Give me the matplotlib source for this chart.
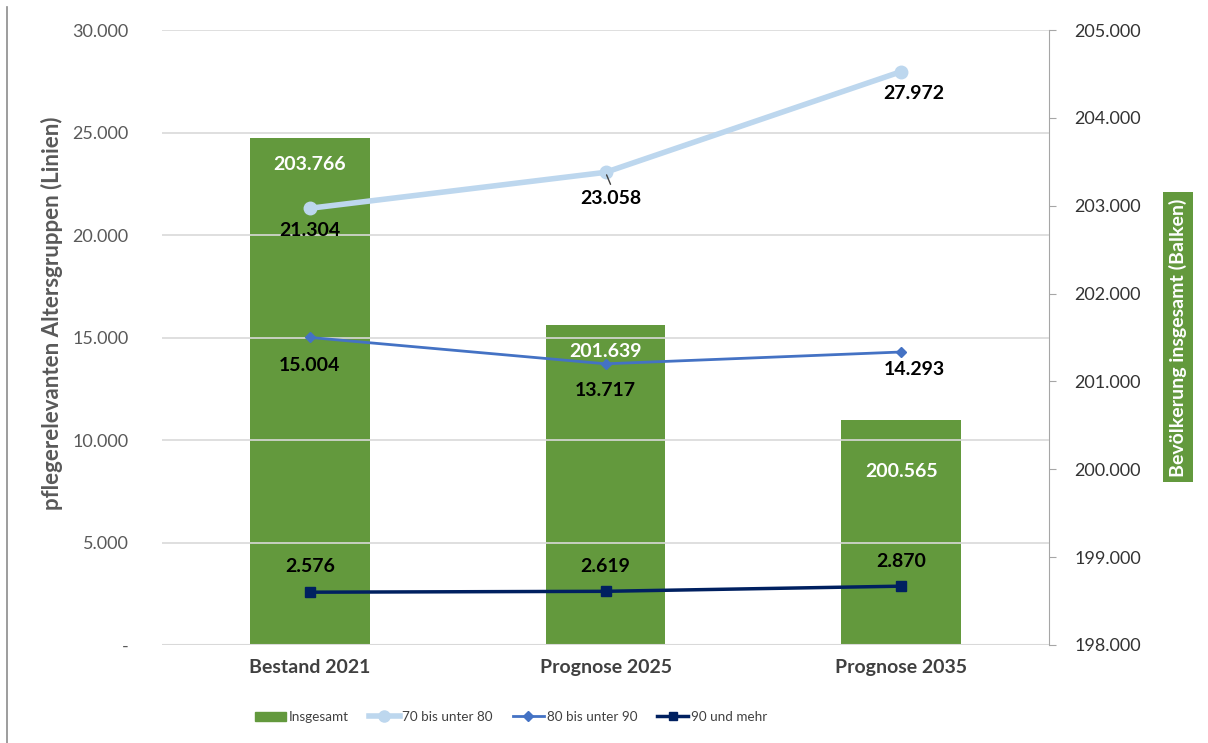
import matplotlib
matplotlib.use('Agg')
import matplotlib.pyplot as plt
from matplotlib.lines import Line2D
import numpy as np

# Daten
kategorien = ['Bestand 2021', 'Prognose 2025', 'Prognose 2035']
insgesamt = [203766, 201639, 200565]
alter_70_80 = [21304, 23058, 27972]
alter_80_90 = [15004, 13717, 14293]
alter_90_plus = [2576, 2619, 2870]
links_ticks = [0, 5000, 10000, 15000, 20000, 25000, 30000]
rechts_ticks = [198000, 199000, 200000, 201000, 202000, 203000, 204000, 205000]


def de_format(v):
    return f"{v:,.0f}".replace(',', '.')


plt.rcParams['font.family'] = ['Lato', 'DejaVu Sans']

gruen = '#63993D'
hellblau = '#BDD7EE'
mittelblau = '#4472C4'
dunkelblau = '#002060'

fig = plt.figure(figsize=(12.08, 7.43), dpi=100)
ax = fig.add_axes([0.1341, 0.1319, 0.7343, 0.8277])
ax2 = ax.twinx()

x = np.arange(len(kategorien))

# Balken auf der rechten Achse
ax2.bar(x, [v - 198000 for v in insgesamt], bottom=198000, width=0.405,
        color=gruen, zorder=2)
ax2.set_ylim(198000, 205000)
ax2.set_yticks(rechts_ticks)
ax2.set_yticklabels([de_format(t) for t in rechts_ticks], fontsize=13, color='#333333')

# Linien vor die Balken legen
ax.set_zorder(ax2.get_zorder() + 1)
ax.patch.set_visible(False)

ax.plot(x, alter_70_80, color=hellblau, lw=4, marker='o', ms=9, zorder=3)
ax.plot(x, alter_80_90, color=mittelblau, lw=2, marker='D', ms=5, zorder=3)
ax.plot(x, alter_90_plus, color=dunkelblau, lw=2.5, marker='s', ms=7, zorder=3)

ax.set_ylim(0, 30000)
ax.set_xlim(-0.5, 2.5)
ax.set_yticks(links_ticks)
ax.set_yticklabels(['-'] + [de_format(t) for t in links_ticks[1:]], fontsize=13, color='#595959')
ax.set_xticks(x)
ax.set_xticklabels(kategorien, fontsize=14, fontweight='bold', color='#404040')
ax.tick_params(axis='x', length=0, pad=10)
ax.tick_params(axis='y', length=0, pad=24)
ax2.tick_params(axis='y', length=5, color='#A6A6A6', pad=13)

# Gitterlinien
for t in links_ticks:
    ax.axhline(t, color='#D9D9D9', lw=1.2, zorder=0)
ax.axhline(0, color='#D9D9D9', lw=1.5, zorder=0)

for a in (ax, ax2):
    for s in ['top', 'left', 'bottom']:
        a.spines[s].set_visible(False)
ax.spines['right'].set_visible(False)
ax2.spines['right'].set_color('#A6A6A6')

ax.set_ylabel('pflegerelevanten Altersgruppen (Linien)', fontsize=16,
              fontweight='bold', color='#595959')
ax.yaxis.set_label_coords(-0.112, 0.54)

fig.text(0.975, 0.546, 'Bevölkerung insgesamt (Balken)', rotation=90, ha='center',
         va='center', fontsize=14, fontweight='bold', color='white',
         bbox=dict(boxstyle='square,pad=0.3', fc=gruen, ec='none'))

# Datenbeschriftungen
lab = dict(fontsize=14, fontweight='bold', color='black', ha='center', va='center',
           textcoords='offset pixels')
for i, v in enumerate(insgesamt):
    off = -52 if i == 2 else -26
    ax2.annotate(de_format(v), (x[i], v), xytext=(0, off), fontsize=14,
                 fontweight='bold', color='white', ha='center', va='center',
                 textcoords='offset pixels', zorder=4)

offs_70 = [(0, -22), (5, -26), (13, -22)]
for i, v in enumerate(alter_70_80):
    ax.annotate(de_format(v), (x[i], v), xytext=offs_70[i], **lab)
# Fuehrungslinie bei 23.058
ax.annotate('', (x[1], alter_70_80[1]), xytext=(5, -12), textcoords='offset pixels',
            arrowprops=dict(arrowstyle='-', color='#404040', lw=1, shrinkA=0, shrinkB=2))

offs_80 = [(0, -28), (0, -27), (13, -17)]
for i, v in enumerate(alter_80_90):
    ax.annotate(de_format(v), (x[i], v), xytext=offs_80[i], **lab)

offs_90 = [(0, 26), (0, 25), (0, 25)]
for i, v in enumerate(alter_90_plus):
    ax.annotate(de_format(v), (x[i], v), xytext=offs_90[i], **lab)

# Legende
handles = [
    plt.Rectangle((0, 0), 1, 1, color=gruen),
    Line2D([], [], color=hellblau, lw=4, marker='o', ms=8),
    Line2D([], [], color=mittelblau, lw=2, marker='D', ms=5),
    Line2D([], [], color=dunkelblau, lw=2.5, marker='s', ms=6),
]
labels = ['Insgesamt', '70 bis unter 80', '80 bis unter 90', '90 und mehr']
fig.legend(handles, labels, loc='center', bbox_to_anchor=(0.423, 0.035), ncol=4,
           frameon=False, fontsize=9.7, handlelength=2.3, columnspacing=1.5,
           handletextpad=0.2, labelcolor='#404040')

# Rahmenlinie links
fig.add_artist(Line2D([0.0058, 0.0058], [0.0, 0.99], color='#8C8C8C', lw=1.2))

fig.savefig('out.png', dpi=100)
